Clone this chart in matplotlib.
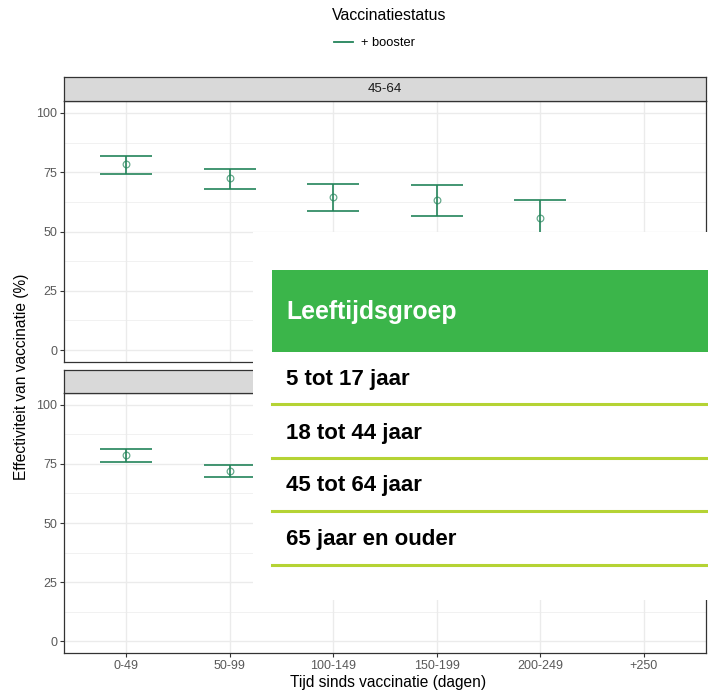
import matplotlib
matplotlib.use("Agg")
import matplotlib.pyplot as plt
from matplotlib.patches import Rectangle
from matplotlib.lines import Line2D

plt.rcParams['font.family'] = ['Liberation Sans', 'DejaVu Sans']

# data
categories = ["0-49", "50-99", "100-149", "150-199", "200-249", "+250"]

top_label = "45-64"
top_est = [78.5, 72.5, 64.5, 63.2, 55.9]
top_low = [74.2, 68.0, 58.5, 56.7, 47.0]
top_high = [82.0, 76.5, 70.0, 69.5, 63.1]

# strip label of the lower panel is covered by the table in the picture
bottom_est = [78.7, 72.1]
bottom_low = [75.6, 69.6]
bottom_high = [81.5, 74.5]

legend_title = "Vaccinatiestatus"
legend_entry = "+ booster"
ylab = "Effectiviteit van vaccinatie (%)"
xlab = "Tijd sinds vaccinatie (dagen)"

table_header = "Leeftijdsgroep"
table_rows = ["5 tot 17 jaar", "18 tot 44 jaar", "45 tot 64 jaar", "65 jaar en ouder"]

W, H = 708, 692
green = '#23845A'
grid_col = '#EBEBEB'
border_col = '#333333'

fig = plt.figure(figsize=(W / 100, H / 100), dpi=100)


def fbox(x0, y0, x1, y1):
    # pixel box (top-left origin) -> figure fraction rect
    return [x0 / W, 1 - y1 / H, (x1 - x0) / W, (y1 - y0) / H]


def panel(y0, y1, est, low, high, show_x):
    ax = fig.add_axes(fbox(64, y0, 706, y1))
    n = len(est)
    xs = list(range(1, n + 1))
    ax.vlines(xs, low, high, color=green, lw=1.2, zorder=3)
    ax.hlines(low, [x - 0.25 for x in xs], [x + 0.25 for x in xs], color=green, lw=1.2, zorder=3)
    ax.hlines(high, [x - 0.25 for x in xs], [x + 0.25 for x in xs], color=green, lw=1.2, zorder=3)
    ax.plot(xs, est, 'o', mfc='none', mec=green, mew=0.9, ms=4.8, alpha=0.7, zorder=4)
    ax.set_xlim(0.4, len(categories) + 0.6)
    ax.set_ylim(-5, 105)
    ax.set_xticks(range(1, len(categories) + 1))
    ax.set_yticks([0, 25, 50, 75, 100])
    ax.set_yticks([12.5, 37.5, 62.5, 87.5], minor=True)
    ax.grid(True, which='major', color=grid_col, lw=1.0, zorder=0)
    ax.grid(True, which='minor', axis='y', color=grid_col, lw=0.5, zorder=0)
    ax.set_axisbelow(True)
    ax.tick_params(axis='both', which='major', length=3, color=border_col,
                   labelsize=9, labelcolor='#595959', pad=2)
    ax.tick_params(which='minor', length=0)
    if show_x:
        ax.set_xticklabels(categories)
    else:
        ax.set_xticklabels([])
        ax.tick_params(axis='x', length=0)
    for s in ax.spines.values():
        s.set_color(border_col)
        s.set_linewidth(0.9)
    return ax


def strip(y0, y1, label=None):
    sx = fig.add_axes(fbox(64, y0, 706, y1))
    sx.set_facecolor('#D9D9D9')
    sx.set_xticks([])
    sx.set_yticks([])
    for s in sx.spines.values():
        s.set_color(border_col)
        s.set_linewidth(0.9)
    if label:
        sx.text(0.5, 0.5, label, ha='center', va='center', fontsize=9.6, color='#1A1A1A',
                transform=sx.transAxes)


panel(101, 362, top_est, top_low, top_high, False)
strip(77, 101, top_label)
panel(393, 653, bottom_est, bottom_low, bottom_high, True)
strip(370, 393)

# legend
fig.text(389 / W, 1 - 16 / H, legend_title, ha='center', va='center', fontsize=11.4)
fig.add_artist(Line2D([334 / W, 353 / W], [1 - 42 / H, 1 - 42 / H], color=green, lw=1.3,
                      transform=fig.transFigure))
fig.text(361 / W, 1 - 43 / H, legend_entry, ha='left', va='center', fontsize=9.3)

# axis titles
fig.text(22 / W, 1 - 377 / H, ylab, rotation=90, ha='center', va='center', fontsize=11.2)
fig.text(388 / W, 1 - 683 / H, xlab, ha='center', va='center', fontsize=11.2)

# overlaid table
fig.add_artist(Rectangle((253 / W, 1 - 600 / H), (W - 253) / W, 368 / H,
                         transform=fig.transFigure, facecolor='white', edgecolor='none', zorder=10))
fig.add_artist(Rectangle((272 / W, 1 - 352 / H), (W - 272) / W, 82 / H,
                         transform=fig.transFigure, facecolor='#3BB54A', edgecolor='none', zorder=11))
fig.text(286 / W, 1 - 312 / H, table_header, ha='left', va='center', fontsize=17.8,
         fontweight='bold', color='white', zorder=12)
row_y = [379, 433, 486, 539]
line_y = [404, 458, 511, 565]
for txt, ty, ly in zip(table_rows, row_y, line_y):
    fig.text(286 / W, 1 - ty / H, txt, ha='left', va='center', fontsize=16,
             fontweight='bold', color='black', zorder=12)
    fig.add_artist(Line2D([272 / W, 1], [1 - ly / H, 1 - ly / H], color='#B5D334', lw=2.2,
                          transform=fig.transFigure, zorder=12))

fig.savefig("out.png", dpi=100)
